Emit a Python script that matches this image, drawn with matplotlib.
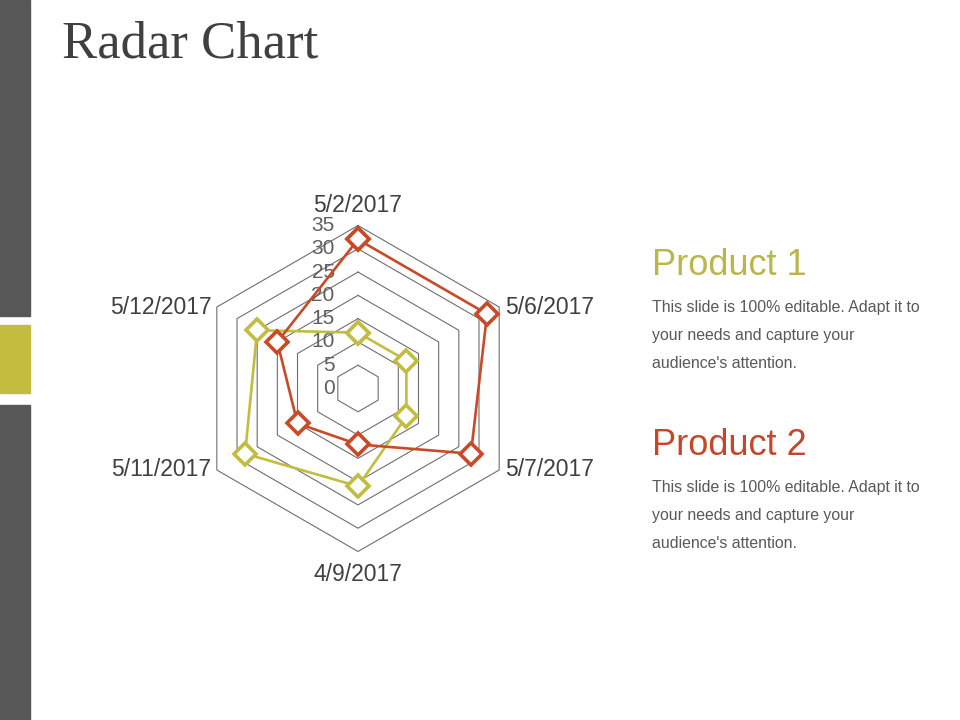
import numpy as np
import matplotlib.pyplot as plt
from matplotlib.patches import Rectangle

categories = ["5/2/2017", "5/6/2017", "5/7/2017", "4/9/2017", "5/11/2017", "5/12/2017"]
product_1 = [12, 12, 12, 21, 28, 25]
product_2 = [32, 32, 28, 12, 15, 20]
ticks = [0, 5, 10, 15, 20, 25, 30, 35]

YELLOW = "#c2bd3e"
RED = "#c94a26"
GRAY = "#575757"
TEXT = "#404040"

W, H = 960, 720
# chart centre in pixels and pixels per data unit
cx, cy, scale = 358, 388.5, 4.657

fig = plt.figure(figsize=(9.6, 7.2), dpi=100)
fig.patch.set_facecolor("white")

# left side bar
for y0, y1, c in [(0, 316, GRAY), (325, 393, YELLOW), (405, 720, GRAY)]:
    fig.patches.append(Rectangle((0, 1 - y1 / H), 30 / W, (y1 - y0) / H,
                                 transform=fig.transFigure, color=c, zorder=0))

ax = fig.add_axes([0, 0, 1, 1])
ax.set_xlim(-cx / scale, (W - cx) / scale)
ax.set_ylim(-(H - cy) / scale, cy / scale)
ax.axis("off")

theta = np.arange(len(categories)) * 2 * np.pi / len(categories)
closed = np.append(theta, theta[0])

# hexagonal grid
for r in ticks[1:]:
    ax.plot(r * np.sin(closed), r * np.cos(closed), color="#6e6e6e", lw=0.8, zorder=1)

# radial tick labels
for r in ticks:
    ax.text(-5, r, str(r), ha="right", va="center", fontsize=15,
            color="#5f5f5f", family="Liberation Sans", zorder=2)

# category labels
rmax = ticks[-1]
for t, lab in zip(theta, categories):
    x, y = rmax * np.sin(t), rmax * np.cos(t)
    s = np.sin(t)
    if abs(s) < 1e-6:
        ha, va, off = "center", ("bottom" if np.cos(t) > 0 else "top"), (0, 6 if np.cos(t) > 0 else -8)
    elif s > 0:
        ha, va, off = "left", "center", (4, 0)
    else:
        ha, va, off = "right", "center", (-4, 0)
    ax.annotate(lab, (x, y), xytext=off, textcoords="offset points", ha=ha, va=va,
                fontsize=16.5, color=TEXT, family="Liberation Sans")

for vals, c in [(product_1, YELLOW), (product_2, RED)]:
    v = np.append(vals, vals[0])
    ax.plot(v * np.sin(closed), v * np.cos(closed), color=c, lw=1.9,
            marker="D", markersize=11, markerfacecolor="white",
            markeredgecolor=c, markeredgewidth=2.6, zorder=3)

# title
fig.text(62 / W, 1 - 57 / H, "Radar Chart", family="Liberation Serif",
         fontsize=38, color=TEXT, va="baseline", ha="left")

# side descriptions
body = ["This slide is 100% editable. Adapt it to",
        "your needs and capture your",
        "audience's attention."]
for head, c, base in [("Product 1", "#bab64a", 275), ("Product 2", "#c4472a", 455)]:
    fig.text(652 / W, 1 - base / H, head, family="Liberation Sans", fontsize=26,
             color=c, va="baseline", ha="left")
    for i, line in enumerate(body):
        fig.text(652 / W, 1 - (base + 36.7 + i * 28.3) / H, line, family="Liberation Sans",
                 fontsize=11.4, color="#595959", va="baseline", ha="left")

plt.savefig("out.png", dpi=100)
